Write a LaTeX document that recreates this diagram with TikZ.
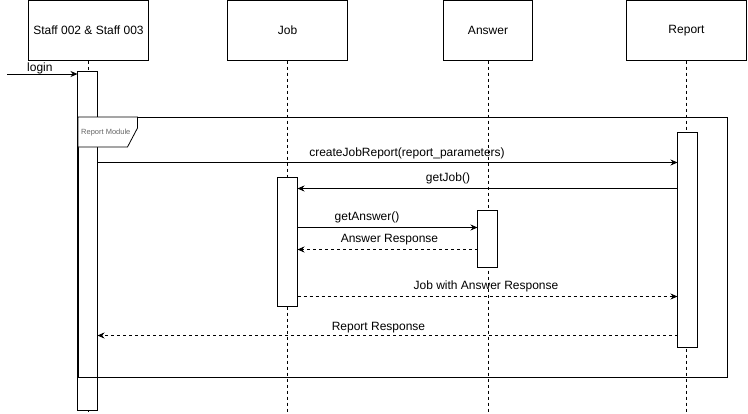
\documentclass[tikz,border=0pt]{standalone}
\usepackage{fontspec}
\setmainfont{Liberation Sans}
\usetikzlibrary{arrows.meta}
\begin{document}
\begin{tikzpicture}[x=1pt,y=-1pt,
  every node/.style={font=\fontsize{12}{14}\selectfont},
  head/.style={draw, line width=0.8pt, fill=white, minimum width=#1, minimum height=60pt, inner sep=0pt, outer sep=0pt, anchor=north west},
  actbox/.style={draw, line width=0.8pt, fill=white, minimum width=20pt, minimum height=#1, inner sep=0pt, outer sep=0pt, anchor=north west},
  life/.style={line width=0.8pt, dash pattern=on 3pt off 3pt},
  msg/.style={line width=0.8pt, -{Stealth[length=7pt,width=6pt]}},
  ret/.style={msg, dash pattern=on 3pt off 3pt},
  lbl/.style={inner sep=0pt, anchor=center}
]
\useasboundingbox (0,0) rectangle (748,413);
% headers
\node[head=120pt] (hs) at (28.5,0.5) {\raisebox{-1.5pt}{Staff 002 \& Staff 003}};
\node[head=120pt] (hj) at (227.5,0.5) {\raisebox{-1.5pt}{Job}};
\node[head=89pt] (ha) at (443.5,0.5) {\raisebox{-1.5pt}{Answer}};
\node[head=120pt] (hr) at (626.5,0.5) {\raisebox{-1.5pt}{Report}};
% lifelines
\coordinate (bot) at (0,413);
\draw[life] (hs.south) -- (hs.south |- bot);
\draw[life] (hj.south) -- (hj.south |- bot);
\draw[life] (ha.south) -- (ha.south |- bot);
\draw[life] (hr.south) -- (hr.south |- bot);
% activations
\node[actbox=339pt] (as) at (77.5,71.5) {};
\node[actbox=215pt] (ar) at (677.5,132.5) {};
\node[actbox=129pt] (aj) at (277.5,177.5) {};
\node[actbox=57pt] (aa) at (477.5,210.5) {};
% frame
\draw[line width=0.8pt] (78,117) rectangle (727,377);
\draw[line width=0.8pt, fill=white] (78,117) -- (137.5,117) -- (137.5,128) -- (127.5,147) -- (78,147) -- cycle;
\node[lbl, font=\fontsize{7.5}{9}\selectfont, text=black!60, anchor=west] (fl) at (81,132.5) {Report Module};
% login
\coordinate (lin) at (7,74);
\draw[msg] (lin) -- (as.west |- lin);
\node[lbl, anchor=west] (ll) at (27,68.5) {login};
% messages
\coordinate (y1) at (0,162.5);
\draw[msg] (as.east |- y1) -- (ar.west |- y1);
\node[lbl] (l1) at (407,153) {createJobReport(report\_parameters)};
\coordinate (y2) at (0,188.5);
\draw[msg] (ar.west |- y2) -- (aj.east |- y2);
\node[lbl] (l2) at (448,178.5) {getJob()};
\coordinate (y3) at (0,227.5);
\draw[msg] (aj.east |- y3) -- (aa.west |- y3);
\node[lbl] (l3) at (367,217.5) {getAnswer()};
\coordinate (y4) at (0,249.5);
\draw[ret] (aa.west |- y4) -- (aj.east |- y4);
\node[lbl] (l4) at (389.5,240) {Answer Response};
\coordinate (y5) at (0,296.5);
\draw[ret] (aj.east |- y5) -- (ar.west |- y5);
\node[lbl] (l5) at (486,286) {Job with Answer Response};
\coordinate (y6) at (0,335.5);
\draw[ret] (ar.west |- y6) -- (as.east |- y6);
\node[lbl] (l6) at (378.5,327.5) {Report Response};
\end{tikzpicture}
\end{document}
